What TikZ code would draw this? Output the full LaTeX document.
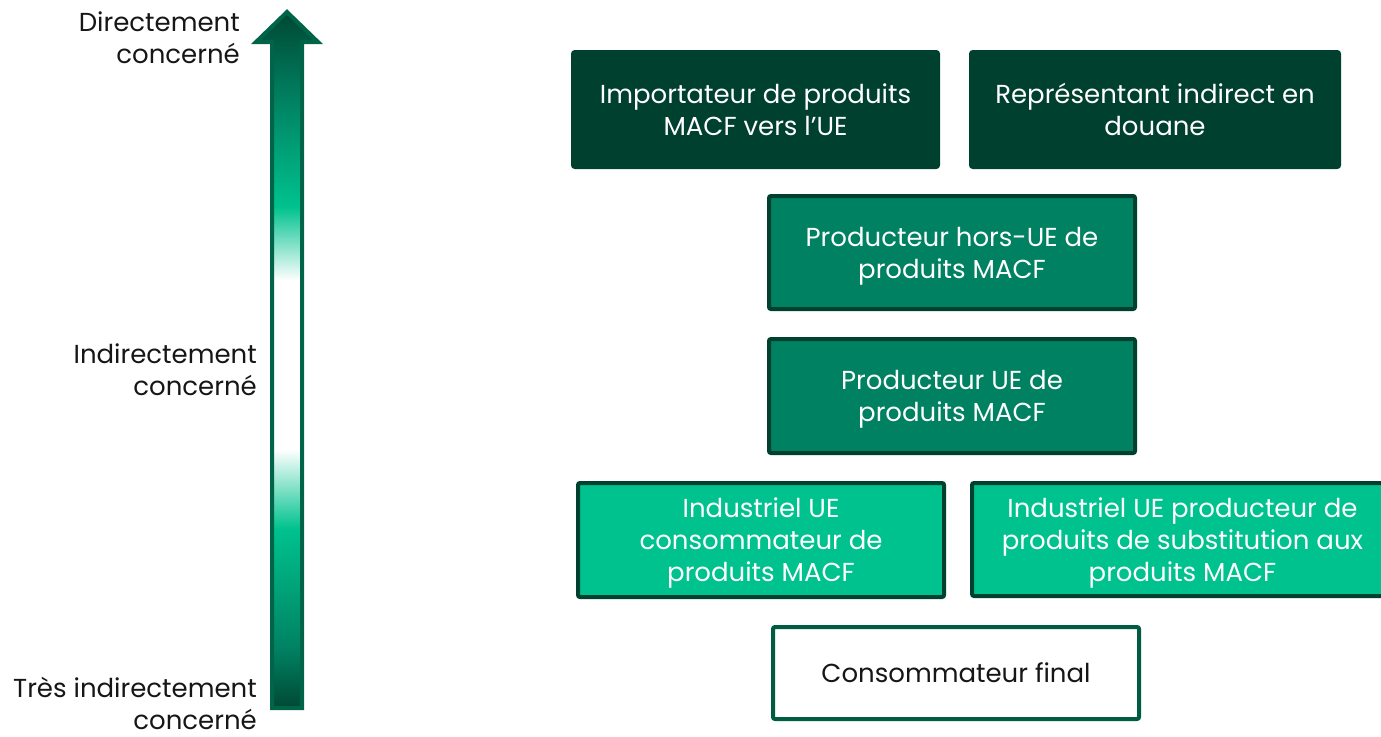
\documentclass[tikz,border=0pt]{standalone}
\usepackage{fontspec}
\setmainfont{Poppins}
\definecolor{cdk}{RGB}{0,64,46}
\definecolor{cadk}{RGB}{0,72,52}
\definecolor{cmd}{RGB}{0,130,98}
\definecolor{cbr}{RGB}{0,194,142}
\definecolor{cwb}{RGB}{0,92,64}
\definecolor{carb}{RGB}{0,100,72}
\definecolor{ctxt}{RGB}{22,22,22}
\pgfdeclareverticalshading{arrowgrad}{100bp}{color(0bp)=(cadk); color(25bp)=(cadk); color(29.3bp)=(cmd); color(37.9bp)=(cbr); color(43.6bp)=(white); color(55.7bp)=(white); color(61bp)=(cbr); color(68.6bp)=(cmd); color(75bp)=(cadk); color(100bp)=(cadk)}
\newcommand\bxt[1]{\raisebox{-3.5pt}[\height][\depth]{\begin{tabular}{@{}c@{}}#1\end{tabular}}}
\tikzset{
  box/.style={rectangle, rounded corners=2pt, line width=4pt,
    font=\fontsize{26}{32}\selectfont, text=white, inner sep=0pt},
  lvl/.style={anchor=east, align=right, font=\fontsize{26}{32}\selectfont, text=ctxt, inner sep=0pt}
}
\begin{document}
\begin{tikzpicture}[x=1pt,y=-1pt]
\useasboundingbox (0,0) rectangle (1381,736);
\begin{scope}
\clip (0,0) rectangle (1381,736);
% arrow
\shade[shading=arrowgrad, draw=carb, line width=4pt, line join=miter]
  (272,708) -- (272,42) -- (256,42) -- (287,12) -- (318,42) -- (302,42) -- (302,708) -- cycle;
% boxes
\node[box, fill=cdk, draw=cdk, minimum width=365pt, minimum height=115pt] (imp) at (755.5,109.5)
  {\bxt{Importateur de produits\\MACF vers l’UE}};
\node[box, fill=cdk, draw=cdk, minimum width=368pt, minimum height=115pt] (rep) at (1155,109.5)
  {\bxt{Représentant indirect en\\douane}};
\node[box, fill=cmd, draw=cdk, minimum width=366pt, minimum height=113pt] (phue) at (952,252.5)
  {\bxt{Producteur hors-UE de\\produits MACF}};
\node[box, fill=cmd, draw=cdk, minimum width=366pt, minimum height=114pt] (pue) at (952,396)
  {\bxt{Producteur UE de\\produits MACF}};
\node[box, fill=cbr, draw=cdk, minimum width=366pt, minimum height=114pt] (icons) at (761,540)
  {\bxt{Industriel UE\\consommateur de\\produits MACF}};
\node[box, fill=cbr, draw=cdk, minimum width=421pt, minimum height=113pt] (isub) at (1182.5,539.5)
  {\bxt{Industriel UE producteur de\\produits de substitution aux\\produits MACF}};
\node[box, fill=white, draw=cwb, text=ctxt, minimum width=366pt, minimum height=92pt] (cf) at (956,673)
  {\bxt{Consommateur final}};
\end{scope}
% level labels
\node[lvl] (l1) at (240,38) {Directement\\concerné};
\node[lvl] (l2) at (257,370) {Indirectement\\concerné};
\node[lvl] (l3) at (257,703) {Très indirectement\\concerné};
\end{tikzpicture}
\end{document}
